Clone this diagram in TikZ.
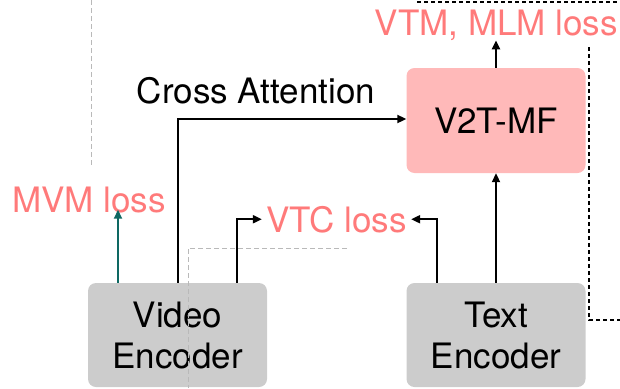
\documentclass[tikz,border=0pt]{standalone}
\usepackage{fontspec}
\setmainfont{TeX Gyre Heros}
\usetikzlibrary{arrows.meta,positioning}
\definecolor{encgray}{RGB}{204,204,204}
\definecolor{fusepink}{RGB}{255,185,185}
\definecolor{losspink}{RGB}{255,122,122}
\definecolor{mvmteal}{RGB}{14,104,98}
\definecolor{guidegray}{RGB}{185,185,185}
\tikzset{
  encbox/.style={fill=encgray, rounded corners=8pt, minimum width=179pt, minimum height=104pt, align=center, inner sep=0pt, font=\fontsize{35}{41}\selectfont},
  fusebox/.style={encbox, fill=fusepink, minimum height=105pt},
  losslabel/.style={text=losspink, anchor=base, inner sep=4pt, font=\fontsize{35}{41}\selectfont},
  flow/.style={-{Triangle[length=9pt,width=8pt]}, line width=2pt},
  guide/.style={guidegray, line width=1pt, dash pattern=on 5pt off 3pt},
  border/.style={black, line width=1.2pt, dash pattern=on 4pt off 3pt}
}
\begin{document}
\begin{tikzpicture}[x=1pt,y=-1pt]
    \useasboundingbox (0,0) rectangle (620,388);
    %boxes
    \node[encbox] (venc) at (177.5,335) {Video\\Encoder};
    \node[encbox] (tenc) at (496,335) {Text\\Encoder};
    \node[fusebox] (fuse) at (496,120.5) {V2T-MF};
    %labels
    \node[losslabel] (mvm) at (89,212) {MVM loss};
    \node[losslabel] (vtc) at (336.5,232) {VTC loss};
    \node[losslabel] (vtm) at (496,35) {VTM, MLM loss};
    \node[anchor=base, inner sep=0pt, font=\fontsize{35}{41}\selectfont] (xattn) at (256,103) {Cross Attention};
    %guides
    \draw[guide] (91,0) -- (91,167);
    \draw[guide] (347,248) -- (188,248) -- (188,388);
    \draw[border] (417,2) -- (620,2);
    \draw[border] (589,47) -- (589,320) -- (620,320);
    %edges
    \draw[flow, mvmteal] ([xshift=-59.5pt]venc.north) -- ([xshift=-59.5pt, yshift=7pt]venc.north |- mvm.south);
    \draw[flow] ([xshift=0.5pt]venc.north) |- ([yshift=1.5pt]fuse.west);
    \draw[flow] ([xshift=59.5pt]venc.north) |- (vtc.west);
    \draw[flow] ([xshift=-59pt]tenc.north) |- (vtc.east);
    \draw[flow] (tenc) -- (fuse);
    \draw[flow] (fuse.north) -- ([yshift=4pt]fuse.north |- vtm.south);
\end{tikzpicture}
\end{document}
